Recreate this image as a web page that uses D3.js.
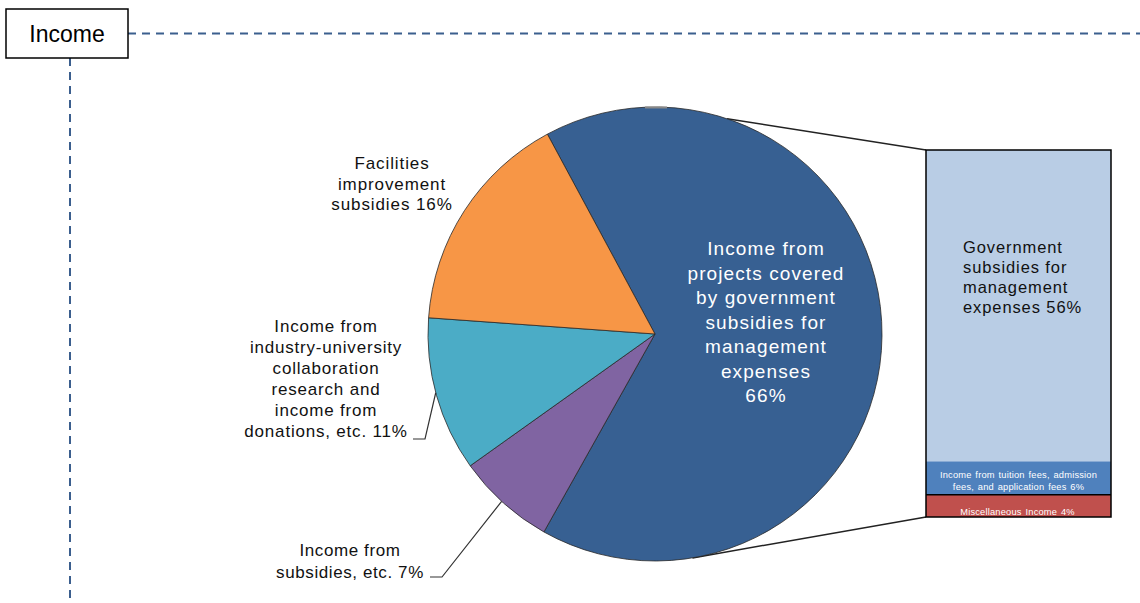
<!DOCTYPE html>
<html>
<head>
<meta charset="utf-8">
<script src="https://cdn.jsdelivr.net/npm/d3@7"></script>
<style>
html,body{margin:0;padding:0;background:#fff;}
svg{display:block;font-family:Arial,"Liberation Sans",sans-serif;}
</style>
</head>
<body>
<svg id="chart" width="1140" height="603"></svg>
<script>
// ---- data ----
const pieCategories = [
  "Income from projects covered by government subsidies for management expenses",
  "Income from subsidies, etc.",
  "Income from industry-university collaboration research and income from donations, etc.",
  "Facilities improvement subsidies"
];
const pieValues = [66, 7, 11, 16];
const pieColors = ["#376092", "#8064A2", "#4BACC6", "#F79646"];

const barCategories = [
  "Government subsidies for management expenses",
  "Income from tuition fees, admission fees, and application fees",
  "Miscellaneous Income"
];
const barValues = [56, 6, 4];
const barColors = ["#B9CDE5", "#4F81BD", "#C0504D"];

const pieLabelLines = [
  ["Income from", "projects covered", "by government", "subsidies for", "management", "expenses", "66%"],
  ["Income from", "subsidies, etc. 7%"],
  ["Income from", "industry-university", "collaboration", "research and", "income from", "donations, etc. 11%"],
  ["Facilities", "improvement", "subsidies 16%"]
];
const barLabelLines = [
  ["Government", "subsidies for", "management", "expenses 56%"],
  ["Income  from  tuition  fees,  admission", "fees,  and  application  fees  6%"],
  ["Miscellaneous  Income  4%"]
];
const titleText = "Income";

// ---- drawing ----
const svg = d3.select("#chart");
const W = 1140, H = 603;

// header box & dashed guides
const box = {x: 6, y: 9, w: 122, h: 49};
const dashColor = "#3B5F8E";
svg.append("line").attr("x1", box.x + box.w).attr("x2", W).attr("y1", box.y + box.h / 2).attr("y2", box.y + box.h / 2)
  .attr("stroke", dashColor).attr("stroke-width", 2).attr("stroke-dasharray", "8,6");
svg.append("line").attr("x1", 70).attr("x2", 70).attr("y1", box.y + box.h).attr("y2", H)
  .attr("stroke", dashColor).attr("stroke-width", 2).attr("stroke-dasharray", "8,6");
svg.append("rect").attr("x", box.x).attr("y", box.y).attr("width", box.w).attr("height", box.h)
  .attr("fill", "#fff").attr("stroke", "#000").attr("stroke-width", 1.5);
svg.append("text").attr("x", box.x + box.w / 2).attr("y", box.y + box.h / 2 + 8)
  .attr("text-anchor", "middle").attr("font-size", 23).attr("fill", "#000").text(titleText);

// pie
const cx = 655, cy = 334, R = 227;
const deg = Math.PI / 180;
const startA = -28.3 * deg;
const pie = d3.pie().sort(null).value(d => d)
  .startAngle(startA).endAngle(startA + 2 * Math.PI);
const arcs = pie(pieValues);
const arc = d3.arc().innerRadius(0).outerRadius(R);
const g = svg.append("g").attr("transform", `translate(${cx},${cy})`);

// connector lines (drawn before pie so pie sits on top)
const polar = (a, r) => [Math.sin(a) * r, -Math.cos(a) * r];
const barTotal = d3.sum(barValues);
const yBar = d3.scaleLinear().domain([0, barTotal]).range([150, 517]);
const barX0 = 926, barX1 = 1111;
const topP = polar(18.5 * deg, R);
const botP = polar(170.5 * deg, R);
g.append("line").attr("x1", topP[0]).attr("y1", topP[1]).attr("x2", barX0 - cx).attr("y2", yBar(0) - cy)
  .attr("stroke", "#222").attr("stroke-width", 1.5);
g.append("line").attr("x1", botP[0]).attr("y1", botP[1]).attr("x2", barX0 - cx).attr("y2", yBar(barTotal) - cy)
  .attr("stroke", "#222").attr("stroke-width", 1.5);

g.selectAll("path.slice").data(arcs).join("path").attr("class", "slice")
  .attr("d", arc).attr("fill", (d, i) => pieColors[i])
  .attr("stroke", "#2a2a2a").attr("stroke-width", 0.8).attr("stroke-linejoin", "round");

// small grey mark at top of pie
g.append("line").attr("x1", -10).attr("x2", 12).attr("y1", -R + 0.5).attr("y2", -R + 0.5)
  .attr("stroke", "#888").attr("stroke-width", 2);

// pie labels
function multiline(sel, lines, x, y0, dy, size, color, anchor, ls) {
  const t = sel.append("text").attr("text-anchor", anchor || "middle").attr("font-size", size).attr("fill", color)
    .attr("letter-spacing", ls || 0);
  lines.forEach((l, i) => t.append("tspan").attr("x", x).attr("y", y0 + i * dy).text(l));
  return t;
}
multiline(svg, pieLabelLines[0], 766, 255, 24.5, 19, "#fff", "middle", 1.1);
multiline(svg, pieLabelLines[3], 392, 169, 20.5, 17, "#111", "middle", 0.9);
multiline(svg, pieLabelLines[2], 326, 332, 21, 17, "#111", "middle", 0.8);
multiline(svg, pieLabelLines[1], 350, 556, 21.5, 17, "#111", "middle", 0.6);

// leader lines
const tealMid = polar(255 * deg, R);
svg.append("polyline").attr("fill", "none").attr("stroke", "#333").attr("stroke-width", 1.2)
  .attr("points", [[413, 439], [425, 439], [cx + tealMid[0], cy + tealMid[1]]].map(p => p.join(",")).join(" "));
const purpMid = polar(222.5 * deg, R);
svg.append("polyline").attr("fill", "none").attr("stroke", "#333").attr("stroke-width", 1.2)
  .attr("points", [[430, 577], [442, 577], [cx + purpMid[0], cy + purpMid[1]]].map(p => p.join(",")).join(" "));

// bar of pie (first value on top)
let acc = 0;
const stack = barValues.map(v => { const s = {y0: acc, y1: acc + v}; acc += v; return s; });
svg.selectAll("rect.seg").data(stack).join("rect").attr("class", "seg")
  .attr("x", barX0).attr("width", barX1 - barX0)
  .attr("y", d => yBar(d.y0)).attr("height", d => yBar(d.y1) - yBar(d.y0))
  .attr("fill", (d, i) => barColors[i]);
svg.selectAll("line.sep").data(stack.slice(2)).join("line").attr("class", "sep")
  .attr("x1", barX0).attr("x2", barX1).attr("y1", d => yBar(d.y0)).attr("y2", d => yBar(d.y0))
  .attr("stroke", "#000").attr("stroke-width", 1.5);
svg.append("rect").attr("x", barX0).attr("y", yBar(0)).attr("width", barX1 - barX0)
  .attr("height", yBar(barTotal) - yBar(0)).attr("fill", "none").attr("stroke", "#000").attr("stroke-width", 1.5);

multiline(svg, barLabelLines[0], 963, 253, 20, 16.5, "#111", "start", 0.9);
const mid = (barX0 + barX1) / 2;
multiline(svg, barLabelLines[1], mid, 478, 12, 9.3, "#fff", "middle", 0.2).attr("word-spacing", 1);
multiline(svg, barLabelLines[2], mid - 1, 515, 12, 9.3, "#fff", "middle", 0.2).attr("word-spacing", 1);
</script>
</body>
</html>
